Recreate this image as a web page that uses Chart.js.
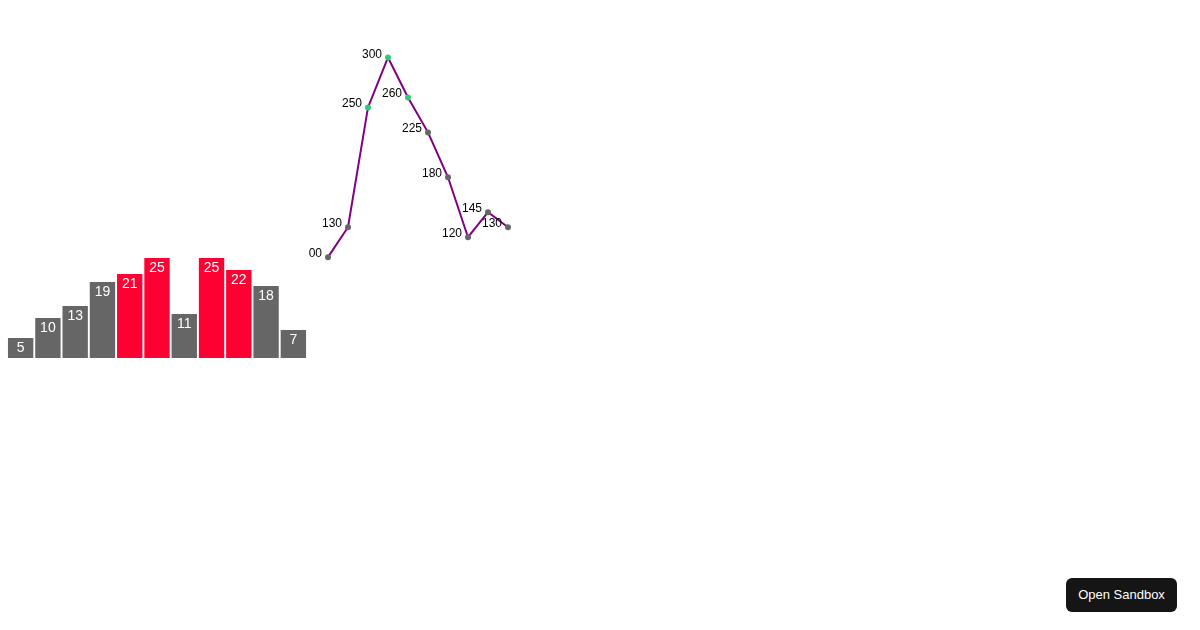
<!DOCTYPE html>
<html>
<head>
<meta charset="utf-8">
<script src="https://cdn.jsdelivr.net/npm/chart.js@4.4.1/dist/chart.umd.min.js"></script>
<style>
  html, body { margin: 0; padding: 0; background: #fff; }
  body { width: 1200px; height: 630px; position: relative; overflow: hidden; font-family: "Liberation Sans", Arial, sans-serif; }
  #barChart { position: absolute; left: 7px; top: 258px; }
  #lineChart { position: absolute; left: 309px; top: 1px; }
  #sandbox {
    position: absolute; left: 1066px; top: 578px; width: 111px; height: 34px;
    background: #151515; color: #fff; border: none; border-radius: 6px;
    font-family: "Liberation Sans", Arial, sans-serif; font-size: 13px; line-height: 32px;
  }
</style>
</head>
<body>
<canvas id="barChart" width="300" height="100"></canvas>
<canvas id="lineChart" width="300" height="360"></canvas>
<button id="sandbox">Open Sandbox</button>
<script>
// data
const barCategories = ['1', '2', '3', '4', '5', '6', '7', '8', '9', '10', '11'];
const barValues = [5, 10, 13, 19, 21, 25, 11, 25, 22, 18, 7];
const barThreshold = 20;

const lineCategories = ['1', '2', '3', '4', '5', '6', '7', '8', '9', '10'];
const lineValues = [100, 130, 250, 300, 260, 225, 180, 120, 145, 130];
const lineThreshold = 240;

// labels drawn on top of the marks
const barLabels = {
  id: 'barLabels',
  afterDatasetsDraw(chart) {
    const ctx = chart.ctx;
    const meta = chart.getDatasetMeta(0);
    ctx.save();
    ctx.font = '14px "Liberation Sans", Arial, sans-serif';
    ctx.fillStyle = '#ffffff';
    ctx.textAlign = 'center';
    ctx.textBaseline = 'alphabetic';
    meta.data.forEach((bar, i) => {
      ctx.fillText(String(barValues[i]), bar.x, bar.y + 14);
    });
    ctx.restore();
  }
};

const pointLabels = {
  id: 'pointLabels',
  afterDatasetsDraw(chart) {
    const ctx = chart.ctx;
    const meta = chart.getDatasetMeta(0);
    ctx.save();
    ctx.font = '12px "Liberation Sans", Arial, sans-serif';
    ctx.fillStyle = '#000000';
    ctx.textAlign = 'right';
    ctx.textBaseline = 'alphabetic';
    meta.data.forEach((pt, i) => {
      ctx.fillText(String(lineValues[i]), pt.x - 6, pt.y);
    });
    ctx.restore();
  }
};

// Bar chart
new Chart(document.getElementById('barChart'), {
  type: 'bar',
  data: {
    labels: barCategories,
    datasets: [{
      data: barValues,
      backgroundColor: barValues.map(v => v > barThreshold ? '#ff0033' : '#666666'),
      barPercentage: 0.93,
      categoryPercentage: 1
    }]
  },
  options: {
    responsive: false,
    animation: false,
    layout: { padding: 0 },
    plugins: { legend: { display: false }, tooltip: { enabled: false } },
    scales: {
      x: { display: false },
      y: { display: false, min: 0, max: 25 }
    }
  },
  plugins: [barLabels]
});

// Line chart
new Chart(document.getElementById('lineChart'), {
  type: 'line',
  data: {
    labels: lineCategories,
    datasets: [{
      data: lineValues,
      borderColor: '#800080',
      borderWidth: 2,
      tension: 0,
      fill: false,
      pointRadius: 3,
      pointBorderWidth: 0,
      pointBackgroundColor: lineValues.map(v => v > lineThreshold ? '#2ecc71' : '#666666'),
      clip: false
    }]
  },
  options: {
    responsive: false,
    animation: false,
    layout: { padding: { left: 19, right: 101, top: 56.5, bottom: 2.5 } },
    plugins: { legend: { display: false }, tooltip: { enabled: false } },
    scales: {
      x: { display: false, offset: false },
      y: { display: false, min: 0, max: 300 }
    }
  },
  plugins: [pointLabels]
});
</script>
</body>
</html>
